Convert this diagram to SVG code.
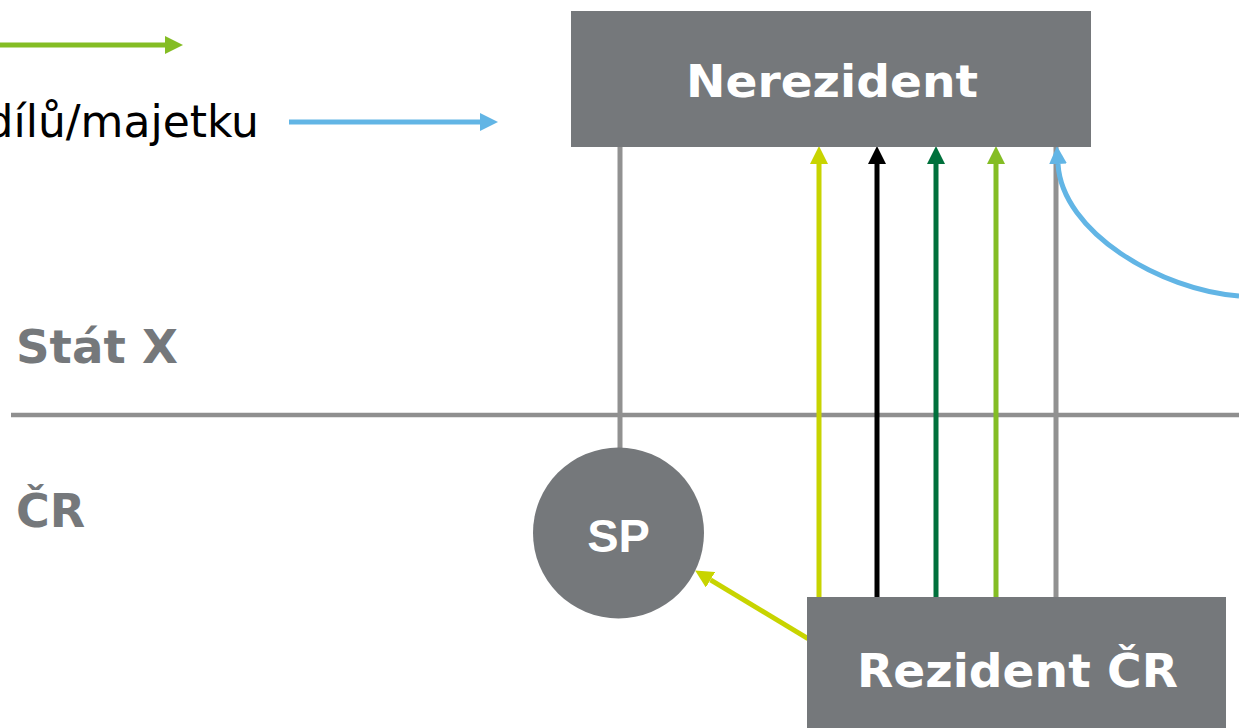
<svg xmlns="http://www.w3.org/2000/svg" width="1239" height="728" viewBox="0 0 1239 728">
<style>
.box{fill:#75787b}
.wt{fill:#ffffff;font-family:"DejaVu Sans",Verdana,sans-serif;font-weight:bold;text-anchor:middle}
.side{fill:#75787b;font-family:"DejaVu Sans",Verdana,sans-serif;font-weight:bold;font-size:46px}
.ln{fill:none;stroke-width:5}
</style>
<defs>
<marker id="mY" markerUnits="userSpaceOnUse" viewBox="0 0 18 18" refX="0" refY="9" markerWidth="18" markerHeight="18" orient="auto"><path d="M0,0 L18,9 L0,18 z" fill="#c8d400"/></marker>
<marker id="mK" markerUnits="userSpaceOnUse" viewBox="0 0 18 18" refX="0" refY="9" markerWidth="18" markerHeight="18" orient="auto"><path d="M0,0 L18,9 L0,18 z" fill="#000000"/></marker>
<marker id="mD" markerUnits="userSpaceOnUse" viewBox="0 0 18 18" refX="0" refY="9" markerWidth="18" markerHeight="18" orient="auto"><path d="M0,0 L18,9 L0,18 z" fill="#00703c"/></marker>
<marker id="mG" markerUnits="userSpaceOnUse" viewBox="0 0 18 18" refX="0" refY="9" markerWidth="18" markerHeight="18" orient="auto"><path d="M0,0 L18,9 L0,18 z" fill="#84bd24"/></marker>
<marker id="mB" markerUnits="userSpaceOnUse" viewBox="0 0 18 18" refX="0" refY="9" markerWidth="18" markerHeight="18" orient="auto"><path d="M0,0 L18,9 L0,18 z" fill="#62b5e5"/></marker>
</defs>

<g id="legend">
<line class="ln" x1="0" y1="45" x2="165" y2="45" stroke="#84bd24" marker-end="url(#mG)"/>
<text x="259" y="137" font-family="DejaVu Sans, Verdana, sans-serif" font-size="44" text-anchor="end" fill="#000000">dílů/majetku</text>
<line class="ln" x1="289" y1="122" x2="480" y2="122" stroke="#62b5e5" marker-end="url(#mB)"/>
</g>

<g id="border">
<line x1="11" y1="415" x2="1239" y2="415" stroke="#8f8f8f" stroke-width="4.5"/>
<text class="side" x="16" y="363" textLength="162" lengthAdjust="spacingAndGlyphs">Stát X</text>
<text class="side" x="16" y="527">ČR</text>
</g>

<g id="connectors">
<line x1="620" y1="146" x2="620" y2="450" stroke="#919191" stroke-width="5"/>
<line class="ln" x1="819" y1="600" x2="819" y2="164" stroke="#c8d400" marker-end="url(#mY)"/>
<line class="ln" x1="877" y1="600" x2="877" y2="164" stroke="#000000" marker-end="url(#mK)"/>
<line class="ln" x1="936" y1="600" x2="936" y2="164" stroke="#00703c" marker-end="url(#mD)"/>
<line class="ln" x1="996" y1="600" x2="996" y2="164" stroke="#84bd24" marker-end="url(#mG)"/>
<line x1="1056" y1="600" x2="1056" y2="147" stroke="#919191" stroke-width="5"/>
<path class="ln" d="M1239,296 C1160,290 1062,232 1058,164" stroke="#62b5e5" marker-end="url(#mB)"/>
<line class="ln" x1="808" y1="638.6" x2="710.5" y2="579.8" stroke="#c8d400" marker-end="url(#mY)"/>
</g>

<g id="nerezident">
<rect class="box" x="571" y="11" width="520" height="136"/>
<text class="wt" x="832" y="97" font-size="44" textLength="292" lengthAdjust="spacingAndGlyphs">Nerezident</text>
</g>

<g id="sp">
<circle class="box" cx="618.5" cy="533" r="85.5"/>
<text x="618.5" y="552" font-family="Liberation Sans, Arial, sans-serif" font-weight="bold" font-size="47" fill="#ffffff" text-anchor="middle">SP</text>
</g>

<g id="rezident">
<rect class="box" x="807" y="597" width="419" height="131"/>
<text class="wt" x="1017.5" y="687" font-size="47" textLength="321" lengthAdjust="spacingAndGlyphs">Rezident ČR</text>
</g>
</svg>
